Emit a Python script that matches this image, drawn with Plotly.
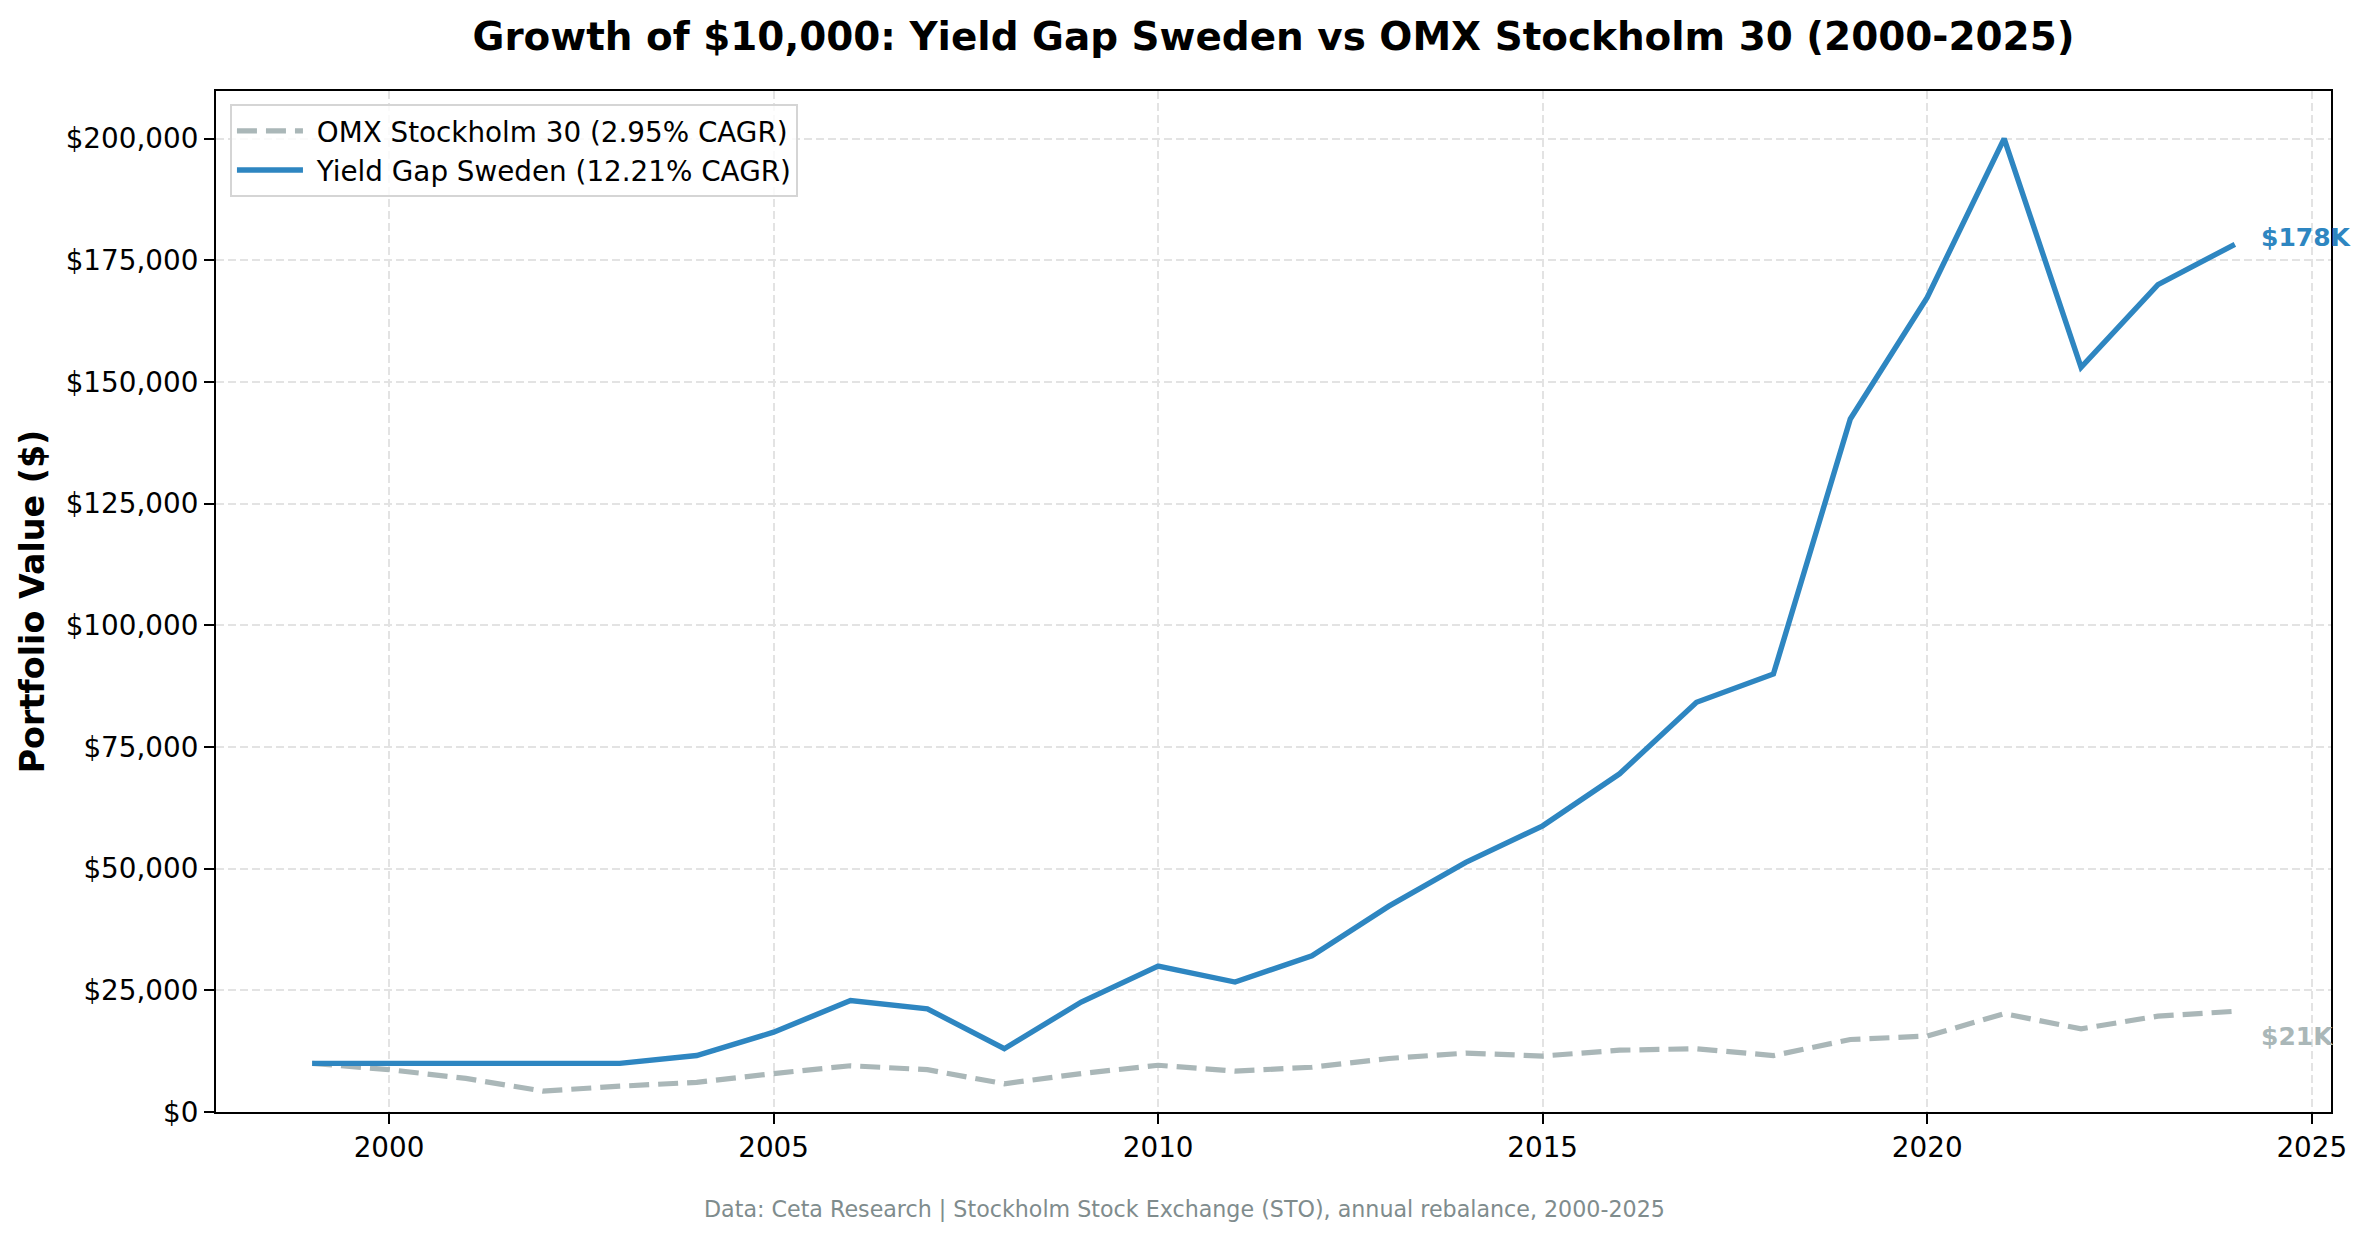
import plotly.graph_objects as go

years = list(range(1999, 2025))
yield_gap = [10000, 10000, 10000, 10000, 10000, 11600, 16400, 22900, 21200, 13000,
             22600, 30000, 26700, 32100, 42300, 51300, 58800, 69500, 84200, 90000,
             142400, 167400, 200000, 153000, 170000, 178300]
omx = [10000, 8700, 6900, 4300, 5300, 6100, 7900, 9500, 8700, 5800,
       7900, 9600, 8400, 9200, 11000, 12100, 11500, 12700, 13000, 11600,
       14900, 15600, 20200, 17100, 19700, 20700]

omx_name = "OMX Stockholm 30 (2.95% CAGR)"
yg_name = "Yield Gap Sweden (12.21% CAGR)"
title_text = "<b>Growth of $10,000: Yield Gap Sweden vs OMX Stockholm 30 (2000-2025)</b>"
ylabel = "<b>Portfolio Value ($)</b>"
footer = "Data: Ceta Research | Stockholm Stock Exchange (STO), annual rebalance, 2000-2025"
end_labels = ["$178K", "$21K"]

BLUE = "#2e86c1"
GRAY = "#aab7b8"
FONT = "DejaVu Sans"
W, H = 2361, 1231
GAP = "\u00a0"

fig = go.Figure()
fig.add_trace(go.Scatter(x=years, y=omx, mode="lines", name=GAP + omx_name,
                         line=dict(color=GRAY, width=5.2, dash="20px,9px")))
fig.add_trace(go.Scatter(x=years, y=yield_gap, mode="lines", name=GAP + yg_name,
                         line=dict(color=BLUE, width=5.4)))

fig.add_annotation(x=years[-1], y=yield_gap[-1], text="<b>%s</b>" % end_labels[0],
                   showarrow=False, xanchor="left", yanchor="middle", xshift=24, yshift=7,
                   font=dict(family=FONT, size=25, color=BLUE))
fig.add_annotation(x=years[-1], y=omx[-1], text="<b>%s</b>" % end_labels[1],
                   showarrow=False, xanchor="left", yanchor="middle", xshift=24, yshift=-25,
                   font=dict(family=FONT, size=25, color=GRAY))
fig.add_annotation(xref="paper", yref="paper", x=0.458, y=-0.095, text=footer,
                   showarrow=False, xanchor="center", yanchor="middle",
                   font=dict(family=FONT, size=22.2, color="#7f8c8d"))

axis_common = dict(showline=True, linecolor="black", linewidth=2.2, mirror=True,
                   ticks="outside", ticklen=10, tickwidth=2.2, tickcolor="black",
                   showgrid=True, gridcolor="#e3e3e3", gridwidth=2.2, griddash="8px,4px",
                   zeroline=False, tickfont=dict(family=FONT, size=27.8, color="black"))

fig.update_xaxes(range=[1997.75, 2025.25], tickmode="array",
                 tickvals=[2000, 2005, 2010, 2015, 2020, 2025], **axis_common)
fig.update_yaxes(range=[0, 209800], tickmode="array",
                 tickvals=[0, 25000, 50000, 75000, 100000, 125000, 150000, 175000, 200000],
                 ticktext=["$0", "$25,000", "$50,000", "$75,000", "$100,000", "$125,000",
                           "$150,000", "$175,000", "$200,000"],
                 title=dict(text=ylabel, font=dict(family=FONT, size=33.3, color="black"),
                            standoff=11),
                 **axis_common)

fig.update_layout(
    width=W, height=H,
    margin=dict(l=208, r=38, t=83, b=127, autoexpand=False),
    paper_bgcolor="white", plot_bgcolor="white",
    title=dict(text=title_text, x=0.5, xref="paper", xanchor="center",
               y=1 - 28 / H, yref="container", yanchor="middle",
               font=dict(family=FONT, size=38.9, color="black")),
    legend=dict(x=0.0066, y=0.987, xanchor="left", yanchor="top",
                bgcolor="rgba(255,255,255,0.8)", bordercolor="#d5d5d5", borderwidth=2,
                font=dict(family=FONT, size=27.8, color="black"), itemwidth=66,
                tracegroupgap=0),
    showlegend=True,
)

fig.write_html("out.html")
